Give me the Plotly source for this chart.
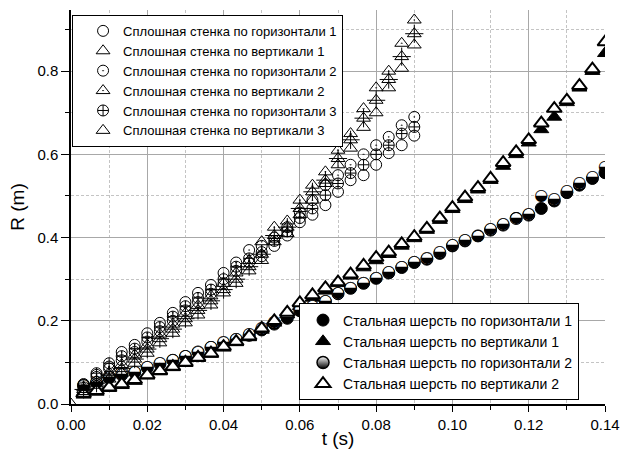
import plotly.graph_objects as go

# ---- data ----
t_solid = [0.0033, 0.0067, 0.0100, 0.0133, 0.0167, 0.0200, 0.0233, 0.0267, 0.0300,
           0.0333, 0.0367, 0.0400, 0.0433, 0.0467, 0.0500, 0.0533, 0.0567, 0.0600,
           0.0633, 0.0667, 0.0700, 0.0733, 0.0767, 0.0800, 0.0833, 0.0867, 0.0900]
t_solid_v1 = [0.0] + t_solid

solid_h1 = [0.045, 0.065, 0.085, 0.105, 0.125, 0.150, 0.175, 0.200, 0.225, 0.245, 0.265, 0.290, 0.320, 0.340,
            0.355, 0.380, 0.405, 0.437, 0.455, 0.478, 0.510, 0.538, 0.550, 0.575, 0.603, 0.622, 0.645]
solid_v1 = [0.000, 0.030, 0.045, 0.060, 0.074, 0.098, 0.122, 0.147, 0.170, 0.195, 0.214, 0.238, 0.267, 0.290,
            0.320, 0.345, 0.390, 0.410, 0.455, 0.490, 0.530, 0.575, 0.615, 0.665, 0.700, 0.760, 0.807, 0.863]
solid_h2 = [0.048, 0.070, 0.090, 0.125, 0.142, 0.170, 0.195, 0.219, 0.245, 0.267, 0.286, 0.315, 0.340, 0.370,
            0.380, 0.400, 0.425, 0.460, 0.490, 0.526, 0.550, 0.575, 0.600, 0.622, 0.642, 0.670, 0.690]
solid_v2 = [0.040, 0.055, 0.075, 0.095, 0.118, 0.142, 0.168, 0.192, 0.218, 0.237, 0.260, 0.290, 0.315, 0.345,
            0.390, 0.425, 0.440, 0.490, 0.526, 0.558, 0.610, 0.650, 0.710, 0.760, 0.800, 0.867, 0.923]
solid_h3 = [0.040, 0.074, 0.098, 0.115, 0.133, 0.160, 0.185, 0.210, 0.235, 0.255, 0.275, 0.300, 0.330, 0.350,
            0.365, 0.392, 0.415, 0.447, 0.470, 0.502, 0.530, 0.555, 0.575, 0.600, 0.622, 0.650, 0.666]
solid_v3 = [0.035, 0.050, 0.070, 0.085, 0.108, 0.132, 0.157, 0.180, 0.205, 0.225, 0.248, 0.275, 0.300, 0.330,
            0.360, 0.405, 0.425, 0.470, 0.510, 0.538, 0.590, 0.635, 0.687, 0.730, 0.780, 0.835, 0.890]

t_wool = [0.0033, 0.0067, 0.0100, 0.0133, 0.0167, 0.0200, 0.0233, 0.0267, 0.0300, 0.0333, 0.0367,
          0.0400, 0.0433, 0.0467, 0.0500, 0.0533, 0.0567, 0.0600, 0.0633, 0.0667, 0.0700, 0.0733,
          0.0767, 0.0800, 0.0833, 0.0867, 0.0900, 0.0933, 0.0967, 0.1000, 0.1033, 0.1067, 0.1100,
          0.1133, 0.1167, 0.1200, 0.1233, 0.1267, 0.1300, 0.1333, 0.1367, 0.1400]
wool_h1 = [0.044, 0.052, 0.063, 0.070, 0.076, 0.087, 0.096, 0.105, 0.114, 0.125, 0.136, 0.146, 0.155, 0.165,
           0.178, 0.192, 0.206, 0.224, 0.234, 0.246, 0.265, 0.278, 0.290, 0.302, 0.315, 0.328, 0.340, 0.348,
           0.362, 0.380, 0.392, 0.404, 0.418, 0.430, 0.446, 0.454, 0.470, 0.488, 0.508, 0.526, 0.542, 0.556]
wool_v1 = [0.022, 0.029, 0.038, 0.045, 0.055, 0.068, 0.078, 0.088, 0.098, 0.110, 0.120, 0.135, 0.148, 0.160,
           0.178, 0.195, 0.215, 0.235, 0.255, 0.272, 0.290, 0.308, 0.328, 0.345, 0.360, 0.380, 0.398, 0.418,
           0.442, 0.468, 0.492, 0.515, 0.538, 0.572, 0.600, 0.628, 0.660, 0.690, 0.725, 0.760, 0.800, 0.843]
wool_h2 = [0.046, 0.054, 0.065, 0.072, 0.078, 0.089, 0.098, 0.106, 0.115, 0.126, 0.137, 0.148, 0.157, 0.168,
           0.182, 0.196, 0.210, 0.226, 0.236, 0.248, 0.266, 0.280, 0.292, 0.304, 0.317, 0.330, 0.342, 0.350,
           0.365, 0.382, 0.394, 0.404, 0.420, 0.432, 0.446, 0.456, 0.500, 0.492, 0.512, 0.530, 0.546, 0.570]
wool_v2 = [0.025, 0.032, 0.040, 0.048, 0.058, 0.070, 0.080, 0.090, 0.100, 0.112, 0.122, 0.138, 0.150, 0.163,
           0.182, 0.200, 0.220, 0.243, 0.262, 0.279, 0.293, 0.312, 0.333, 0.352, 0.365, 0.385, 0.402, 0.422,
           0.447, 0.472, 0.497, 0.520, 0.542, 0.580, 0.606, 0.635, 0.675, 0.710, 0.730, 0.765, 0.805, 0.870]

names_solid = ["Сплошная стенка по горизонтали 1", "Сплошная стенка по вертикали 1",
               "Сплошная стенка по горизонтали 2", "Сплошная стенка по вертикали 2",
               "Сплошная стенка по горизонтали 3", "Сплошная стенка по вертикали 3"]
names_wool = ["Стальная шерсть по горизонтали 1", "Стальная шерсть по вертикали 1",
              "Стальная шерсть по горизонтали 2", "Стальная шерсть по вертикали 2"]

FONT = "Liberation Sans, Arial, sans-serif"
fig = go.Figure()


def open_marker(symbol, size=11):
    return dict(symbol=symbol, size=size, color="black", line=dict(color="black", width=1))


# steel wool (legend2)
fig.add_trace(go.Scatter(x=t_wool, y=wool_h1, mode="markers", name=names_wool[0], legend="legend2",
                         marker=dict(symbol="circle", size=12, color="black", line=dict(color="black", width=1))))
fig.add_trace(go.Scatter(x=t_wool, y=wool_v1, mode="markers", name=names_wool[1], legend="legend2",
                         marker=dict(symbol="triangle-up", size=13, color="black", line=dict(color="black", width=1))))
# half-filled circles: white disc + glyph at the data points, plus a legend-only marker
fig.add_trace(go.Scatter(x=t_wool, y=wool_h2, mode="markers", showlegend=False, hoverinfo="skip",
                         marker=dict(symbol="circle", size=11, color="white", line=dict(width=0))))
fig.add_trace(go.Scatter(x=t_wool, y=wool_h2, mode="text", text=["\u25D2"] * len(t_wool),
                         textposition="middle center", showlegend=False, hoverinfo="x+y",
                         textfont=dict(family="DejaVu Sans", size=16, color="black")))
fig.add_trace(go.Scatter(x=[None], y=[None], mode="markers", name=names_wool[2], legend="legend2",
                         marker=dict(symbol="circle", size=12, color="white",
                                     gradient=dict(type="vertical", color="black"),
                                     line=dict(color="black", width=1.5))))
fig.add_trace(go.Scatter(x=t_wool, y=wool_v2, mode="markers", name=names_wool[3], legend="legend2",
                         marker=dict(symbol="triangle-up", size=13, color="white", line=dict(color="black", width=2))))

# solid wall (legend)
fig.add_trace(go.Scatter(x=t_solid, y=solid_h1, mode="markers", name=names_solid[0], legend="legend",
                         marker=open_marker("circle-open")))
fig.add_trace(go.Scatter(x=t_solid_v1, y=solid_v1, mode="markers", name=names_solid[1], legend="legend",
                         marker=open_marker("triangle-up-open", 12)))
fig.add_trace(go.Scatter(x=t_solid, y=solid_h2, mode="markers", name=names_solid[2], legend="legend",
                         marker=open_marker("circle-open-dot")))
fig.add_trace(go.Scatter(x=t_solid, y=solid_v2, mode="markers", name=names_solid[3], legend="legend",
                         marker=open_marker("triangle-up-open-dot", 12)))
fig.add_trace(go.Scatter(x=t_solid, y=solid_h3, mode="markers", name=names_solid[4], legend="legend",
                         marker=open_marker("circle-cross-open")))
fig.add_trace(go.Scatter(x=t_solid, y=solid_v3, mode="markers", name=names_solid[5], legend="legend",
                         marker=open_marker("triangle-up-open", 12)))
fig.add_trace(go.Scatter(x=t_solid, y=solid_v3, mode="markers", showlegend=False,
                         marker=dict(symbol="cross-thin-open", size=13, color="black",
                                     line=dict(color="black", width=1))))

axis_common = dict(showline=True, linecolor="black", linewidth=1.5, ticks="outside", tickcolor="black",
                   tickwidth=1.2, showgrid=True, gridcolor="#a8a8a8", gridwidth=1, zeroline=False,
                   tickfont=dict(family=FONT, size=15, color="black"), ticklabeloverflow="allow",
                   automargin=False)
minor_common = dict(ticks="outside", ticklen=4, tickcolor="black", showgrid=True,
                    gridcolor="#c4c4c4", griddash="3px,2px", gridwidth=1)

fig.update_layout(
    width=622, height=468,
    margin=dict(l=71, r=17, t=10, b=64),
    paper_bgcolor="white", plot_bgcolor="white",
    font=dict(family=FONT, color="black"),
    xaxis=dict(range=[0, 0.14], tick0=0, dtick=0.02, tickformat=".2f", ticklen=6,
               title=dict(text="t (s)", font=dict(family=FONT, size=19), standoff=0),
               minor=dict(dtick=0.01, **minor_common), **axis_common),
    yaxis=dict(range=[0, 0.947], tick0=0, dtick=0.2, tickformat=".1f", ticklen=8,
               title=dict(text="R (m)", font=dict(family=FONT, size=19), standoff=8),
               minor=dict(dtick=0.1, **minor_common), **axis_common),
    legend=dict(x=0.002, y=0.82, xanchor="left", yanchor="middle", bgcolor="white",
                bordercolor="black", borderwidth=1, font=dict(family=FONT, size=13),
                tracegroupgap=0, itemsizing="trace", indentation=10),
    legend2=dict(x=0.427, y=0.132, xanchor="left", yanchor="middle", bgcolor="white",
                 bordercolor="black", borderwidth=1, font=dict(family=FONT, size=14),
                 tracegroupgap=0, itemsizing="trace", indentation=3),
)

# the page's default body margin would push the 622x468 figure out of the window
fig.write_html("out.html", config={"displayModeBar": False},
               post_script="document.body.style.margin='0';document.body.style.overflow='hidden';")
